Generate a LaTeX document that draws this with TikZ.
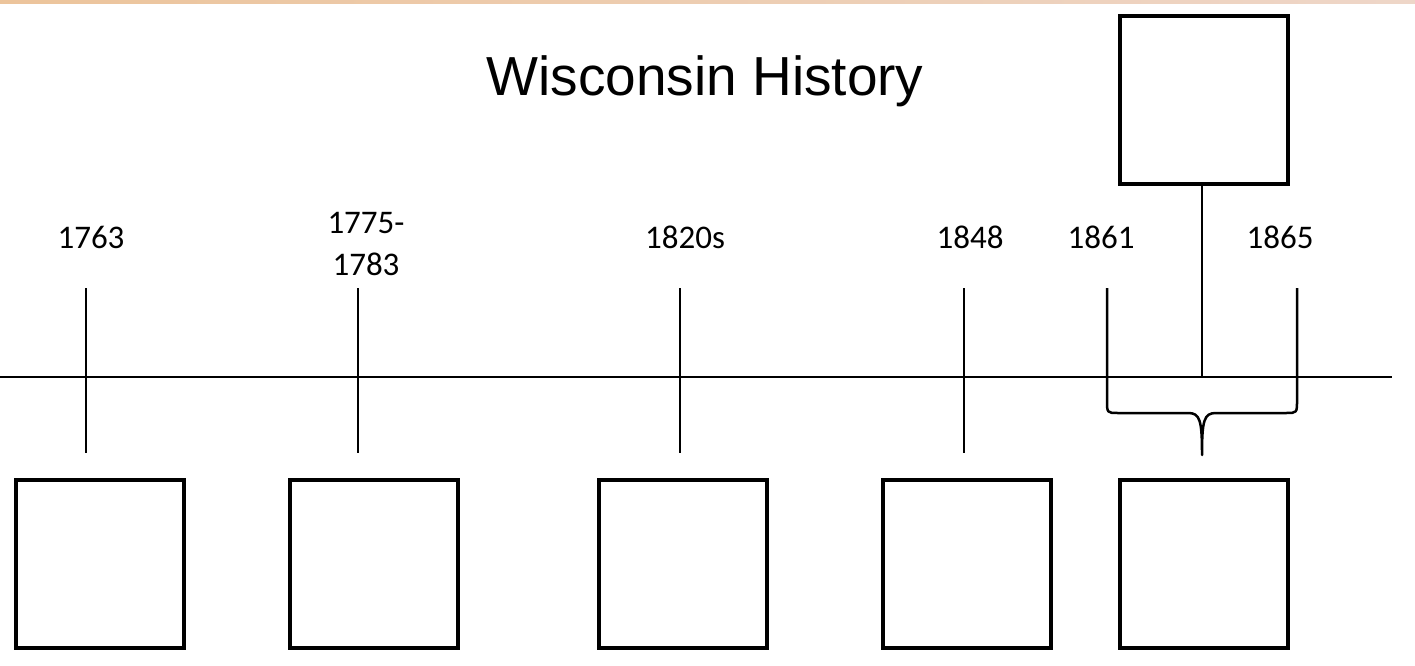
\documentclass[tikz,border=0pt]{standalone}
\usepackage{fontspec}
\setmainfont{Liberation Sans}
\newfontfamily\numfont{Carlito}
\begin{document}
\begin{tikzpicture}[x=1pt,y=-1pt,
  box/.style={draw=black,line width=4pt,minimum width=168pt,minimum height=168pt,inner sep=0pt,fill=white},
  yr/.style={font=\numfont\fontsize{33}{43}\selectfont,align=center,inner sep=0pt},
  tick/.style={line width=2.5pt},
  axis/.style={line width=2.6pt}]
\useasboundingbox (0,0) rectangle (1415,666);
\fill[white] (0,0) rectangle (1415,666);
\shade[left color={rgb,255:red,236;green,196;blue,155},right color={rgb,255:red,238;green,214;blue,200}] (0,0) rectangle (1415,3.5);
% title
\node[font=\fontsize{55}{60}\selectfont,inner sep=0pt] (title) at (705,81) {Wisconsin History};
% axis
\coordinate (axL) at (0,377);
\coordinate (axR) at (1392,377);
\draw[axis] (axL) -- (axR);
% ticks
\foreach \n/\x in {a/86,b/358,c/680,d/964}{
  \coordinate (t\n) at (\x,288);
  \coordinate (b\n) at (\x,453);
  \draw[tick] (t\n) -- (b\n);
}
% labels
\node[yr] (l1) at (91,237) {1763};
\node[yr] (l2) at (366,244) {1775-\\1783};
\node[yr] (l3) at (685,237) {1820s};
\node[yr] (l4) at (970,237) {1848};
\node[yr] (l5) at (1101,237) {1861};
\node[yr] (l6) at (1280,237) {1865};
% boxes
\node[box] (B1) at (100,564) {};
\node[box] (B2) at (374,564) {};
\node[box] (B3) at (682.5,564) {};
\node[box] (B4) at (966.5,564) {};
\node[box] (B5) at (1204,564) {};
\node[box] (T) at (1204,100) {};
% civil war bracket
\coordinate (s1) at (1107,288);
\coordinate (s2) at (1297,288);
\coordinate (tip) at (1202,455);
\coordinate (top) at (1202,377);
\draw[tick] (T.south -| top) -- (top);
\draw[tick,line join=round] (s1) -- (1107,400) .. controls (1107,413) .. (1118,413) -- (1188,413)
  .. controls (1200,413) and (1202,420) .. (tip) .. controls (1202,420) and (1204,413) .. (1216,413)
  -- (1286,413) .. controls (1297,413) .. (1297,400) -- (s2);
\end{tikzpicture}
\end{document}
